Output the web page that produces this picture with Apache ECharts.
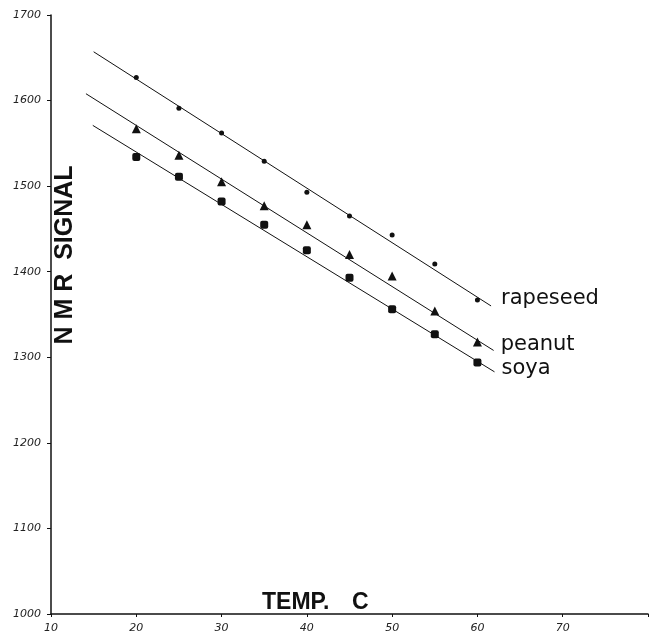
<!DOCTYPE html>
<html>
<head>
<meta charset="utf-8">
<script src="https://cdn.jsdelivr.net/npm/echarts@6/dist/echarts.min.js"></script>
<style>
html,body{margin:0;padding:0;background:#fff;}
#chart{width:651px;height:634px;}
</style>
</head>
<body>
<div id="chart"></div>
<script>
// ---- data ----
const temps = [20, 25, 30, 35, 40, 45, 50, 55, 60];
const rapeseed = [1627, 1591, 1562, 1529, 1493, 1465, 1443, 1409, 1367];
const peanut = [1567, 1536, 1505, 1477, 1455, 1420, 1395, 1354, 1318];
const soya = [1534, 1511, 1482, 1455, 1425, 1393, 1356, 1327, 1294];
// fitted lines: [x start, x end], [y start, y end]
const rapeseedFitX = [15, 61.6], rapeseedFitY = [1657, 1360];
const peanutFitX = [14.1, 61.9], peanutFitY = [1608, 1308];
const soyaFitX = [14.9, 62.0], soyaFitY = [1571, 1283];
const xTickLabels = ['10', '20', '30', '40', '50', '60', '70'];
const yTickLabels = ['1000', '1100', '1200', '1300', '1400', '1500', '1600', '1700'];
const seriesNames = ['rapeseed', 'peanut', 'soya'];

const pairs = (xs, ys) => xs.map((x, i) => [x, ys[i]]);

const chart = echarts.init(document.getElementById('chart'), null, {renderer: 'canvas'});
const ink = '#111';
const tickFont = {fontFamily: 'DejaVu Sans', fontStyle: 'italic', fontSize: 11, color: '#222'};

function fitSeries(name, xs, ys, dy, dist) {
  return {
    type: 'line', name: name, data: pairs(xs, ys), symbol: 'none', silent: true,
    lineStyle: {color: ink, width: 1},
    endLabel: {show: true, formatter: name, distance: dist, offset: [0, dy],
      fontFamily: 'DejaVu Sans', fontSize: 21, color: ink},
    z: 2
  };
}
function pointSeries(name, ys, symbol, size) {
  return {
    type: 'scatter', name: name, data: pairs(temps, ys), symbol: symbol, symbolSize: size,
    itemStyle: {color: ink, opacity: 1}, z: 3
  };
}

chart.setOption({
  animation: false,
  backgroundColor: '#fff',
  grid: {left: 51, right: 0, top: 15, bottom: 20, containLabel: false},
  xAxis: {
    type: 'value', min: 10, max: 80, interval: 10,
    axisLine: {lineStyle: {color: ink, width: 1.5}},
    axisTick: {show: true, length: 3, lineStyle: {color: ink}},
    splitLine: {show: false},
    axisLabel: Object.assign({margin: 9, formatter: v => xTickLabels.includes(String(v)) ? String(v) : ''}, tickFont)
  },
  yAxis: {
    type: 'value', min: 1000, max: 1700, interval: 100,
    axisLine: {show: true, lineStyle: {color: ink, width: 1.5}},
    axisTick: {show: true, length: 4, lineStyle: {color: ink}},
    splitLine: {show: false},
    axisLabel: Object.assign({margin: 10, formatter: v => yTickLabels.includes(String(v)) ? String(v) : ''}, tickFont)
  },
  series: [
    fitSeries(seriesNames[0], rapeseedFitX, rapeseedFitY, -7, 10),
    fitSeries(seriesNames[1], peanutFitX, peanutFitY, -6, 7),
    fitSeries(seriesNames[2], soyaFitX, soyaFitY, -3, 7),
    pointSeries(seriesNames[0], rapeseed, 'circle', 5),
    pointSeries(seriesNames[1], peanut, 'triangle', 9),
    pointSeries(seriesNames[2], soya, 'roundRect', 8)
  ],
  graphic: [
    {type: 'text', x: 65, y: 255, rotation: Math.PI / 2,
     style: {text: 'N M R  SIGNAL', fontFamily: 'Liberation Sans', fontWeight: 'bold', fontSize: 25,
       fill: ink, align: 'center', verticalAlign: 'middle'}},
    {type: 'text', x: 262, y: 603,
     style: {text: 'TEMP.', fontFamily: 'Liberation Sans', fontWeight: 'bold', fontSize: 23,
       fill: ink, align: 'left', verticalAlign: 'middle'}},
    {type: 'text', x: 352, y: 603,
     style: {text: 'C', fontFamily: 'Liberation Sans', fontWeight: 'bold', fontSize: 23,
       fill: ink, align: 'left', verticalAlign: 'middle'}}
  ]
});
</script>
</body>
</html>
